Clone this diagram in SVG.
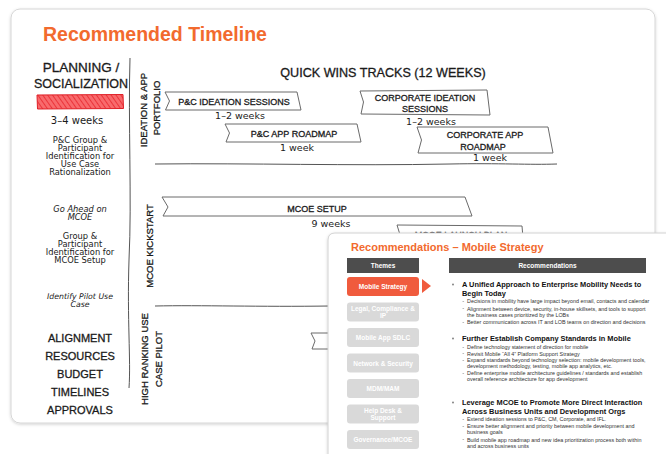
<svg xmlns="http://www.w3.org/2000/svg" width="666" height="454" viewBox="0 0 666 454">
<defs>
<style>
.caps{font-family:"Liberation Sans",Arial,sans-serif;fill:#1a1a1a;stroke:#1a1a1a;stroke-width:0.3;text-anchor:middle;}
.script{font-family:"DejaVu Sans",sans-serif;fill:#1a1a1a;text-anchor:middle;}
.ribbon{fill:#fff;stroke:#6a6a6a;stroke-width:1;stroke-linejoin:round;}
.sep{fill:none;stroke:#555;stroke-width:1;}
.btn{fill:#d9d9d9;}
.btnt{font-family:"Liberation Sans",Arial,sans-serif;font-weight:bold;font-size:6.5px;fill:#fff;text-anchor:middle;}
.hd{font-family:"Liberation Sans",Arial,sans-serif;font-weight:bold;font-size:7.4px;fill:#111;}
.sb{font-family:"Liberation Sans",Arial,sans-serif;font-size:5.4px;fill:#333;}
.dot{fill:#777;}
</style>
<pattern id="hatch" width="4" height="4" patternUnits="userSpaceOnUse" patternTransform="rotate(-35)">
<rect width="4" height="4" fill="#f86a6c"/>
<line x1="0" y1="0" x2="0" y2="4" stroke="#e8262d" stroke-width="1.6"/>
</pattern>
<filter id="sh" x="-5%" y="-5%" width="110%" height="110%">
<feDropShadow dx="0" dy="1" stdDeviation="1.5" flood-color="#000" flood-opacity="0.18"/>
</filter>
</defs>
<rect width="666" height="454" fill="#fff"/>
<g id="card">
<rect x="11" y="9" width="644" height="414" rx="9" fill="#fff" stroke="#d6d6d6" filter="url(#sh)"/>
<text x="43" y="41" font-family="Liberation Sans,Arial,sans-serif" font-weight="bold" font-size="19.5" fill="#f26a2e">Recommended Timeline</text>
</g>
<g id="planning">
<text class="caps" x="81" y="72" font-size="13.5">PLANNING /</text>
<text class="caps" x="81" y="88" font-size="12.5">SOCIALIZATION</text>
<path d="M37,95 L123,94.5 L123.5,108.5 L37.5,109 Z" fill="url(#hatch)" stroke="#e02028" stroke-width="1"/>
<text class="script" x="77" y="124" font-size="10">3–4 weeks</text>
<text class="script" x="80" y="142.5" font-size="8.3">P&amp;C Group &amp;</text>
<text class="script" x="80" y="150.5" font-size="8.3">Participant</text>
<text class="script" x="80" y="158.5" font-size="8.3">Identification for</text>
<text class="script" x="80" y="166.5" font-size="8.3">Use Case</text>
<text class="script" x="80" y="174.5" font-size="8.3">Rationalization</text>
<text class="script" x="80" y="211.5" font-size="8.3" font-style="italic">Go Ahead on</text>
<text class="script" x="80" y="219.5" font-size="8.3" font-style="italic">MCOE</text>
<text class="script" x="80" y="238.5" font-size="8.3">Group &amp;</text>
<text class="script" x="80" y="246.5" font-size="8.3">Participant</text>
<text class="script" x="80" y="254.5" font-size="8.3">Identification for</text>
<text class="script" x="80" y="262.5" font-size="8.3">MCOE Setup</text>
<text class="script" x="80" y="298.5" font-size="7.8" font-style="italic">Identify Pilot Use</text>
<text class="script" x="80" y="306.5" font-size="7.8" font-style="italic">Case</text>
<text class="caps" x="80" y="342" font-size="11">ALIGNMENT</text>
<text class="caps" x="80" y="360" font-size="11">RESOURCES</text>
<text class="caps" x="80" y="378" font-size="11">BUDGET</text>
<text class="caps" x="80" y="396" font-size="11">TIMELINES</text>
<text class="caps" x="80" y="414" font-size="11">APPROVALS</text>
</g>
<g id="connectors">
<path class="sep" d="M130,58 C128,120 132,200 129,260 C127,320 131,360 129,388"/>
<path class="sep" d="M155,164 C250,163 350,166 450,164 C500,163 530,165 557,164"/>
<path class="sep" d="M155,306 C200,305 260,307 330,306"/>
</g>
<g id="lane-labels">
<text class="caps" font-size="9.5" transform="translate(146.5,110) rotate(-90)">IDEATION &amp; APP</text>
<text class="caps" font-size="9.5" transform="translate(159.5,108) rotate(-90)">PORTFOLIO</text>
<text class="caps" font-size="9.5" transform="translate(153,246) rotate(-90)">MCOE KICKSTART</text>
<text class="caps" font-size="9.5" transform="translate(148,359) rotate(-90)">HIGH RANKING USE</text>
<text class="caps" font-size="9.5" transform="translate(162,359) rotate(-90)">CASE PILOT</text>
</g>
<g id="quick-wins">
<text class="caps" x="383" y="77" font-size="12.6">QUICK WINS TRACKS (12 WEEKS)</text>
</g>
<g id="pc-ideation">
<path class="ribbon" d="M165,92 L297,92 L301,110 L165.5,110 L169.5,101 Z"/>
<text class="caps" x="234" y="105" font-size="9">P&amp;C IDEATION SESSIONS</text>
<text class="script" x="240" y="119" font-size="9.5">1–2 weeks</text>
</g>
<g id="corp-ideation">
<path class="ribbon" d="M360,91 L487,90 L490,115 L361,114 L363.5,102 Z"/>
<text class="caps" x="425" y="101" font-size="9">CORPORATE IDEATION</text>
<text class="caps" x="425" y="112" font-size="9">SESSIONS</text>
<text class="script" x="431" y="125" font-size="9.5">1–2 weeks</text>
</g>
<g id="pc-roadmap">
<path class="ribbon" d="M225,124 L357,124 L361,142 L226,142 L229.5,133 Z"/>
<text class="caps" x="294" y="137" font-size="9">P&amp;C APP ROADMAP</text>
<text class="script" x="297" y="151" font-size="9.5">1 week</text>
</g>
<g id="corp-roadmap">
<path class="ribbon" d="M417,127 L548,127 L553,153 L418,153 L421.5,140 Z"/>
<text class="caps" x="485" y="138" font-size="9">CORPORATE APP</text>
<text class="caps" x="483" y="150" font-size="9">ROADMAP</text>
<text class="script" x="490" y="161" font-size="9.5">1 week</text>
</g>
<g id="mcoe-setup">
<path class="ribbon" d="M162,197 L465,197 L472,216 L163,216 L168,207 Z"/>
<text class="caps" x="317" y="212" font-size="9">MCOE SETUP</text>
<text class="script" x="331" y="227" font-size="9.5">9 weeks</text>
</g>
<g id="mcoe-launch">
<path class="ribbon" d="M397,225 L522,226 L524,250 L398,250 L401,238 Z"/>
<text class="caps" x="461" y="238" font-size="9">MCOE LAUNCH PLAN</text>
</g>
<g id="pilot">
<path class="ribbon" d="M311,333 L340,333 L341,349 L312,349 L315,341 Z"/>
</g>
<g id="panel">
<path d="M328,458 L328,240 Q328,233 335,233 L670,233 L670,458 Z" fill="#fff" stroke="#d2d2d2" filter="url(#sh)"/>
<text x="351" y="251" font-family="Liberation Sans,Arial,sans-serif" font-weight="bold" font-size="11" fill="#f26a2e">Recommendations – Mobile Strategy</text>
<rect x="347" y="258" width="72" height="15" fill="#4d4d4d"/>
<text class="btnt" x="383" y="268">Themes</text>
<rect x="449" y="258" width="197" height="15" fill="#4d4d4d"/>
<text class="btnt" x="547.5" y="268">Recommendations</text>
</g>
<g id="themes">
<rect x="347" y="277" width="72" height="19" rx="3" fill="#f05b3d"/>
<text class="btnt" x="383" y="289">Mobile Strategy</text>
<path d="M422,279 L431,286 L422,293 Z" fill="#f05b3d"/>
<rect class="btn" x="347" y="302.5" width="72" height="19" rx="3"/>
<text class="btnt" x="383" y="311">Legal, Compliance &amp;</text>
<text class="btnt" x="383" y="318">IP</text>
<rect class="btn" x="347" y="328" width="72" height="19" rx="3"/>
<text class="btnt" x="383" y="340">Mobile App SDLC</text>
<rect class="btn" x="347" y="353.5" width="72" height="19" rx="3"/>
<text class="btnt" x="383" y="365.5">Network &amp; Security</text>
<rect class="btn" x="347" y="379" width="72" height="19" rx="3"/>
<text class="btnt" x="383" y="391">MDM/MAM</text>
<rect class="btn" x="347" y="404.5" width="72" height="19" rx="3"/>
<text class="btnt" x="383" y="413">Help Desk &amp;</text>
<text class="btnt" x="383" y="420">Support</text>
<rect class="btn" x="347" y="430" width="72" height="19" rx="3"/>
<text class="btnt" x="383" y="442">Governance/MCOE</text>
</g>
<g id="recommendations">
<circle class="dot" cx="453" cy="284.5" r="0.9"/>
<text class="hd" x="462" y="287">A Unified Approach to Enterprise Mobility Needs to</text>
<text class="hd" x="462" y="296">Begin Today</text>
<rect class="dot" x="462.5" y="301" width="1.6" height="0.5"/>
<text class="sb" x="467" y="303">Decisions in mobility have large impact beyond email, contacts and calendar</text>
<rect class="dot" x="462.5" y="308.5" width="1.6" height="0.5"/>
<text class="sb" x="467" y="310.5">Alignment between device, security, in-house skillsets, and tools to support</text>
<text class="sb" x="467" y="316.5">the business cases prioritized by the LOBs</text>
<rect class="dot" x="462.5" y="322" width="1.6" height="0.5"/>
<text class="sb" x="467" y="324">Better communication across IT and LOB teams on direction and decisions</text>
<circle class="dot" cx="453" cy="338.5" r="0.9"/>
<text class="hd" x="462" y="341">Further Establish Company Standards in Mobile</text>
<rect class="dot" x="462.5" y="347" width="1.6" height="0.5"/>
<text class="sb" x="467" y="349">Define technology statement of direction for mobile</text>
<rect class="dot" x="462.5" y="353.5" width="1.6" height="0.5"/>
<text class="sb" x="467" y="355.5">Revisit Mobile “All 4” Platform Support Strategy</text>
<rect class="dot" x="462.5" y="360" width="1.6" height="0.5"/>
<text class="sb" x="467" y="362">Expand standards beyond technology selection: mobile development tools,</text>
<text class="sb" x="467" y="368">development methodology, testing, mobile app analytics, etc.</text>
<rect class="dot" x="462.5" y="373" width="1.6" height="0.5"/>
<text class="sb" x="467" y="375">Define enterprise mobile architecture guidelines / standards and establish</text>
<text class="sb" x="467" y="381">overall reference architecture for app development</text>
<circle class="dot" cx="453" cy="402.5" r="0.9"/>
<text class="hd" x="462" y="405">Leverage MCOE to Promote More Direct Interaction</text>
<text class="hd" x="462" y="414">Across Business Units and Development Orgs</text>
<rect class="dot" x="462.5" y="419" width="1.6" height="0.5"/>
<text class="sb" x="467" y="421">Extend ideation sessions to P&amp;C, CM, Corporate, and IFL.</text>
<rect class="dot" x="462.5" y="426" width="1.6" height="0.5"/>
<text class="sb" x="467" y="428">Ensure better alignment and priority between mobile development and</text>
<text class="sb" x="467" y="434">business goals</text>
<rect class="dot" x="462.5" y="439.5" width="1.6" height="0.5"/>
<text class="sb" x="467" y="441.5">Build mobile app roadmap and new idea prioritization process both within</text>
<text class="sb" x="467" y="447.5">and across business units</text>
</g>
</svg>
